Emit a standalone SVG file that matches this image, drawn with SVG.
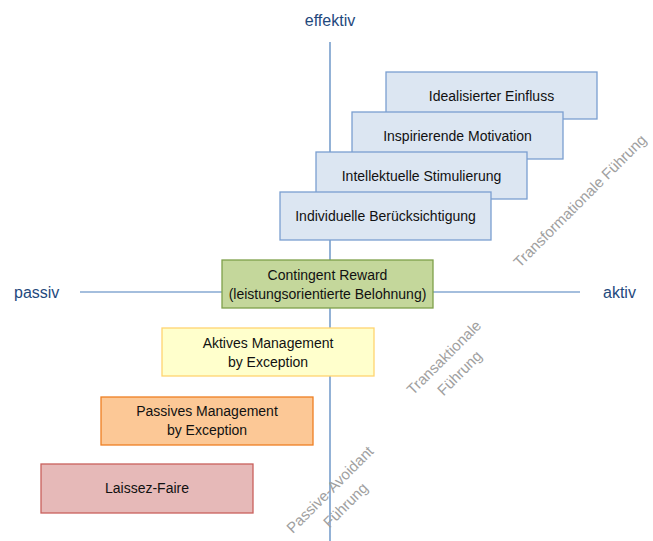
<svg xmlns="http://www.w3.org/2000/svg" width="653" height="541" viewBox="0 0 653 541">
<style>
.box text{font-family:"Liberation Sans",Arial,sans-serif;font-size:14px;fill:#111111;text-anchor:middle}
.ax{font-family:"Liberation Sans",Arial,sans-serif;font-size:16px;fill:#1f497d}
.rot{font-family:"Liberation Sans",Arial,sans-serif;font-size:15px;fill:#a0a0a0;text-anchor:middle}
.blue rect{fill:#dce6f2;stroke:#7a9fd0;stroke-width:1.3}
</style>
<rect width="653" height="541" fill="#ffffff"/>
<g id="connectors" stroke="#4a7ebb" stroke-width="1.2" fill="none">
<line x1="330" y1="42" x2="330" y2="541"/>
<line x1="80" y1="292" x2="580" y2="292"/>
</g>
<g id="labels">
<text class="ax" x="330" y="26" text-anchor="middle">effektiv</text>
<text class="ax" x="14" y="298">passiv</text>
<text class="ax" x="603" y="298">aktiv</text>
</g>
<g id="n-idealisiert" class="box blue"><rect x="386" y="72" width="211" height="47"/><text x="491.5" y="100.5">Idealisierter Einfluss</text></g>
<g id="n-inspirierend" class="box blue"><rect x="352" y="112" width="211" height="47"/><text x="457.5" y="140.5">Inspirierende Motivation</text></g>
<g id="n-intellektuell" class="box blue"><rect x="316" y="152" width="211" height="47"/><text x="421.5" y="180.5">Intellektuelle Stimulierung</text></g>
<g id="n-individuell" class="box blue"><rect x="280" y="192" width="211" height="48"/><text x="385.5" y="220.5">Individuelle Berücksichtigung</text></g>
<g id="n-contingent" class="box"><rect x="222" y="260" width="211" height="48" fill="#c4d79b" stroke="#7fa04a" stroke-width="1.3"/><text x="327.5" y="280">Contingent Reward</text><text x="327.5" y="299">(leistungsorientierte Belohnung)</text></g>
<g id="n-aktiv" class="box"><rect x="162" y="328" width="212" height="48" fill="#ffffcc" stroke="#ffd470" stroke-width="1.3"/><text x="268" y="348">Aktives Management</text><text x="268" y="367">by Exception</text></g>
<g id="n-passiv" class="box"><rect x="101" y="397" width="212" height="48" fill="#fcc896" stroke="#ef7f22" stroke-width="1.3"/><text x="207" y="416">Passives Management</text><text x="207" y="435">by Exception</text></g>
<g id="n-laissez" class="box"><rect x="41" y="464" width="212" height="49" fill="#e6b9b8" stroke="#c9605c" stroke-width="1.3"/><text x="147" y="493">Laissez-Faire</text></g>
<g id="grp-labels">
<g transform="translate(580,201) rotate(-45)"><text class="rot" x="0" y="5">Transformationale Führung</text></g>
<g transform="translate(451.5,365) rotate(-45)"><text class="rot" x="0" y="-5.5">Transaktionale</text><text class="rot" x="0" y="16.5">Führung</text></g>
<g transform="translate(337.5,497) rotate(-45)"><text class="rot" x="0" y="-5.5">Passive-Avoidant</text><text class="rot" x="0" y="16.5">Führung</text></g>
</g>
</svg>
